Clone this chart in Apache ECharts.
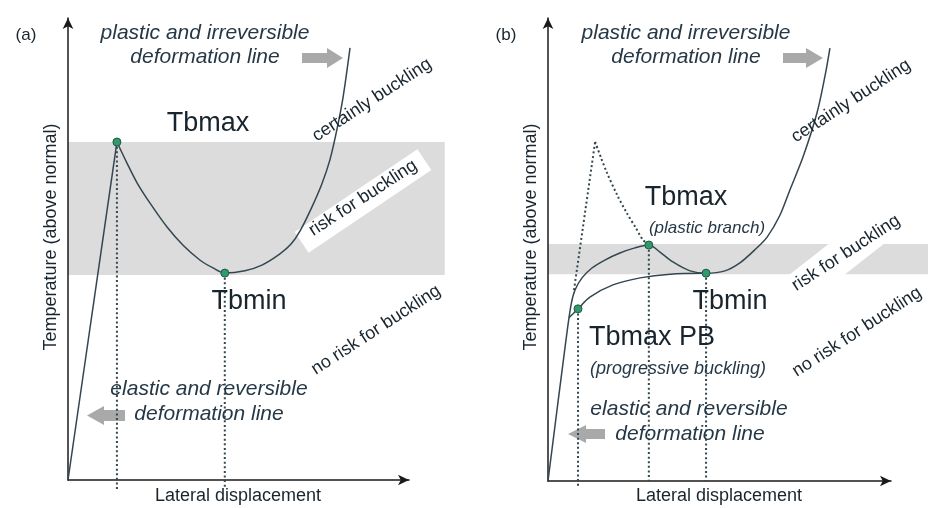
<!DOCTYPE html>
<html><head><meta charset="utf-8">
<script src="https://cdn.jsdelivr.net/npm/echarts@6/dist/echarts.min.js"></script>
<style>html,body{margin:0;padding:0;background:#fff}#c{width:946px;height:508px}</style>
</head><body><div id="c"></div>
<script>
// ---------- data (x: lateral displacement, y: temperature, arbitrary units) ----------
const xAxisTitle = 'Lateral displacement';
const yAxisTitle = 'Temperature (above normal)';
const panelLabels = ['(a)', '(b)'];

// panel (a)
const aElastic = [[0, 0], [14.1, 72.2]];
const aCurve = [[14.1, 72.2], [17.0, 67.7], [19.9, 63.5], [23.6, 59.2], [28.5, 54.1], [33.1, 50.2], [38.0, 47.0], [41.8, 45.3], [45.2, 44.2],
  [51.0, 44.7], [55.9, 45.9], [61.1, 48.3], [64.3, 50.4], [66.9, 53.2], [70.3, 58.3], [73.2, 63.3], [75.5, 68.4], [77.5, 74.8], [79.3, 81.8], [81.3, 92.3]];
const aDots = [[14.1, 72.2], [45.2, 44.2]];
const aDropBottom = [-1.9, -1.9];
const aBand = [0, 108.6, 43.8, 72.2];

// panel (b)
const bUpper = [[0, 0], [5.16, 30.1], [6.59, 37.5], [7.74, 40.7], [9.74, 43.3], [12.6, 45.4], [16.3, 47.1], [20.6, 48.6], [24.9, 49.7], [28.9, 50.3],
  [32.1, 48.8], [35.8, 46.7], [40.7, 44.8], [45.3, 44.3], [50.7, 44.8], [55.0, 46.5], [59.3, 49.3], [62.8, 52.0], [66.5, 56.7], [69.3, 62.0],
  [73.1, 69.1], [77.1, 78.5], [79.4, 86.4], [80.8, 92.3]];
const bLower = [[6.0, 34.8], [8.6, 36.7], [12.0, 39.2], [18.6, 41.8], [26.4, 43.3], [35.0, 44.1], [45.3, 44.3]];
const bDottedRise = [[7.45, 40.7], [13.5, 72.3]];
const bDottedFall = [[13.5, 72.3], [15.2, 68.9], [16.9, 65.7], [19.8, 61.0], [22.6, 57.1], [25.2, 53.9], [27.2, 51.4], [28.9, 50.3]];
const bDots = [[8.6, 36.7], [28.9, 50.3], [45.3, 44.3]];
const bDropBottom = [-1.5, 0, 0];
const bBand = [0, 108.9, 44.1, 50.5];

const X_MAX = 98.3, Y_MAX = 98.7;

// ---------- styles ----------
const FONT = '"Liberation Sans", Arial, sans-serif';
const LINE = '#34464f';
const TXT = '#18252e';
const ITXT = '#263846';
const BAND = '#dcdcdc';
const ARROW = '#a9a9a9';

function axisPair(i) {
  const common = {
    type: 'value', min: 0, gridIndex: i,
    axisTick: { show: false }, axisLabel: { show: false }, splitLine: { show: false },
    axisLine: { show: true, onZero: false, symbol: ['none', 'arrow'], symbolSize: [8, 11], lineStyle: { color: '#1a1a1a', width: 1.5 } }
  };
  return [Object.assign({}, common, { max: X_MAX }), Object.assign({}, common, { max: Y_MAX })];
}
const ax0 = axisPair(0), ax1 = axisPair(1);

function band(idx, b) {
  return {
    type: 'custom', xAxisIndex: idx, yAxisIndex: idx, clip: false, z: 0, silent: true,
    data: [b],
    renderItem: function (params, api) {
      const p0 = api.coord([api.value(0), api.value(3)]);
      const p1 = api.coord([api.value(1), api.value(2)]);
      return { type: 'rect', shape: { x: p0[0], y: p0[1], width: p1[0] - p0[0], height: p1[1] - p0[1] }, style: { fill: BAND } };
    }
  };
}
function line(idx, data, opts) {
  return Object.assign({
    type: 'line', xAxisIndex: idx, yAxisIndex: idx, data: data, symbol: 'none', showSymbol: false, silent: true,
    lineStyle: { color: LINE, width: 1.5 }, z: 2, clip: false
  }, opts || {});
}
function dotted(idx, data, smooth) {
  return line(idx, data, { smooth: smooth ? 0.3 : false, lineStyle: { color: LINE, width: 2, type: [2, 2.6] } });
}
function drops(idx, dots, bottoms) {
  return dots.map(function (d, k) { return dotted(idx, [[d[0], d[1]], [d[0], bottoms[k]]], false); });
}
function dots(idx, data) {
  return {
    type: 'scatter', xAxisIndex: idx, yAxisIndex: idx, data: data, symbolSize: 8, z: 4, silent: true,
    itemStyle: { color: '#2f9b68', borderColor: '#23574a', borderWidth: 1, opacity: 1 }
  };
}

const series = [
  band(0, aBand),
  line(0, aElastic),
  line(0, aCurve, { smooth: 0.3 }),
  ...drops(0, aDots, aDropBottom),
  dots(0, aDots),
  band(1, bBand),
  line(1, bUpper, { smooth: 0.3 }),
  line(1, bLower, { smooth: 0.3 }),
  dotted(1, bDottedRise, false),
  dotted(1, bDottedFall, true),
  ...drops(1, bDots, bDropBottom),
  dots(1, bDots)
];

// ---------- annotations ----------
function T(x, y, s, size, o) {
  o = o || {};
  return {
    type: 'text', x: x, y: y, z: 6, rotation: (o.rot || 0) * Math.PI / 180, silent: true,
    style: {
      text: s, fontSize: size, fontFamily: FONT, fontStyle: o.italic ? 'italic' : 'normal',
      fill: o.color || TXT, align: 'center', verticalAlign: 'middle'
    }
  };
}
function whiteBox(cx, cy, w, h, rot) {
  return { type: 'rect', x: cx, y: cy, z: 1, rotation: rot * Math.PI / 180, silent: true,
    shape: { x: -w / 2, y: -h / 2, width: w, height: h }, style: { fill: '#ffffff' } };
}
function arrow(pts) {
  return { type: 'polygon', z: 1, silent: true, shape: { points: pts }, style: { fill: ARROW } };
}
const IT = { italic: true, color: ITXT };
const graphics = [
  whiteBox(363, 201, 148, 25, 34),
  whiteBox(837, 259, 170, 34, 38),
  arrow([[302, 53], [327, 53], [327, 48], [343, 58], [327, 68], [327, 63], [302, 63]]),
  arrow([[783, 53], [806, 53], [806, 48], [823, 58], [806, 68], [806, 63], [783, 63]]),
  arrow([[87, 415.5], [104, 406], [104, 410], [125, 410], [125, 421], [104, 421], [104, 425]]),
  arrow([[568, 434], [586, 425], [586, 429], [605, 429], [605, 439], [586, 439], [586, 443]]),
  // panel (a)
  T(26, 35, panelLabels[0], 17),
  T(205, 33, 'plastic and irreversible', 21, IT),
  T(205, 57, 'deformation line', 21, IT),
  T(208, 124, 'Tbmax', 27),
  T(372, 100, 'certainly buckling', 18, { rot: 33 }),
  T(363, 198, 'risk for buckling', 18, { rot: 33 }),
  T(249, 302, 'Tbmin', 27),
  T(376, 330, 'no risk for buckling', 18, { rot: 33 }),
  T(209, 389, 'elastic and reversible', 21, IT),
  T(209, 414, 'deformation line', 21, IT),
  T(51, 237, yAxisTitle, 18, { rot: 90 }),
  T(238, 496, xAxisTitle, 18),
  // panel (b)
  T(506, 35, panelLabels[1], 17),
  T(686, 33, 'plastic and irreversible', 21, IT),
  T(686, 57, 'deformation line', 21, IT),
  T(851, 101, 'certainly buckling', 18, { rot: 33 }),
  T(686, 198, 'Tbmax', 27),
  T(707, 228, '(plastic branch)', 17, IT),
  T(846, 253, 'risk for buckling', 18, { rot: 33 }),
  T(730, 302, 'Tbmin', 27),
  T(857, 332, 'no risk for buckling', 18, { rot: 33 }),
  T(652, 338, 'Tbmax PB', 27),
  T(678, 369, '(progressive buckling)', 18, IT),
  T(689, 409, 'elastic and reversible', 21, IT),
  T(690, 434, 'deformation line', 21, IT),
  T(531, 237, yAxisTitle, 18, { rot: 90 }),
  T(719, 496, xAxisTitle, 18)
];

const chart = echarts.init(document.getElementById('c'), null, { renderer: 'canvas' });
chart.setOption({
  backgroundColor: '#ffffff',
  animation: false,
  grid: [
    { left: 68, top: 18, width: 341, height: 462, containLabel: false },
    { left: 548, top: 18, width: 343, height: 463, containLabel: false }
  ],
  xAxis: [ax0[0], ax1[0]],
  yAxis: [ax0[1], ax1[1]],
  series: series,
  graphic: { elements: graphics }
});
</script>
</body></html>
